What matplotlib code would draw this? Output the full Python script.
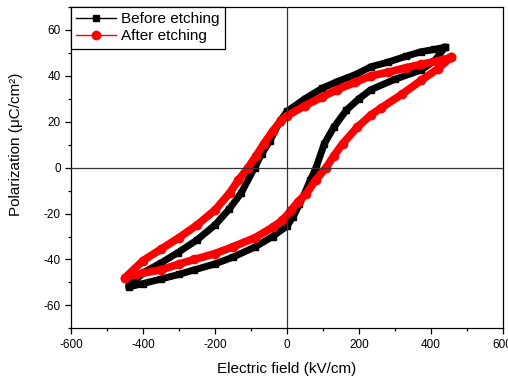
import matplotlib
matplotlib.use('Agg')
import matplotlib.pyplot as plt
from matplotlib.lines import Line2D
from matplotlib.ticker import MultipleLocator

plt.rcParams['font.family'] = ['Liberation Sans', 'DejaVu Sans']
plt.rcParams['axes.unicode_minus'] = False

# Before etching: upper branch (E going down), then lower branch (E going up)
before_up_E = [440, 410, 373, 330, 282, 234, 190, 140, 97, 50, 0, -20, -48, -70, -90,
               -127, -160, -200, -250, -303, -350, -396, -440]
before_up_P = [52.5, 51.5, 50.5, 48.5, 46, 44, 40.5, 37.5, 34.5, 30, 24.5, 20, 11.5, 6, 0,
               -11, -18, -25, -31.5, -37, -41.5, -45.5, -51.5]
before_lo_E = [-440, -400, -349, -300, -257, -201, -150, -88, -40, 0, 17, 35, 49, 65, 81,
               104, 130, 165, 200, 234, 300, 373, 410, 440]
before_lo_P = [-52, -50.5, -48.5, -46.5, -44.5, -42, -39, -34.5, -30, -25.5, -21.5, -16, -11.3, -5.5, 0,
               10.4, 17.5, 25, 30, 34, 38.5, 42.5, 46.5, 52.5]

# After etching
after_up_E = [456, 420, 373, 330, 282, 234, 190, 140, 97, 50, 0, -16, -40, -64, -86, -108,
              -135, -159, -200, -250, -300, -350, -400, -450]
after_up_P = [48, 46.5, 45, 43.5, 41.6, 40, 37.2, 34, 30.7, 27, 22.5, 20.6, 15.8, 10.4, 5, 0,
              -5.5, -11, -18.5, -25, -30.5, -35.5, -40.5, -48]
after_lo_E = [-450, -420, -349, -300, -257, -201, -150, -88, -40, -13, 12, 30, 54, 80, 109,
              130, 155, 195, 234, 262, 320, 373, 419, 456]
after_lo_P = [-48, -46.5, -44.5, -42, -40, -37.5, -34.5, -30.5, -26, -23, -18.6, -15, -11.3, -5.5, 0,
              5, 10.4, 17.5, 23, 26, 32, 38, 43, 48]

fig = plt.figure(figsize=(5.08, 3.83), dpi=100)
ax = fig.add_axes([0.140, 0.1428, 0.8495, 0.8389])

ax.plot(before_up_E + before_lo_E, before_up_P + before_lo_P, color='black',
        lw=5, marker='s', ms=5, solid_joinstyle='round', solid_capstyle='round')
ax.plot(after_up_E + after_lo_E, after_up_P + after_lo_P, color='red',
        lw=5.6, marker='o', ms=6, solid_joinstyle='round', solid_capstyle='round')

ax.axhline(0, color='#333333', lw=0.9, zorder=5)
ax.axvline(0, color='#333333', lw=0.9, zorder=5)

ax.set_xlim(-600, 600)
ax.set_ylim(-70, 70)
ax.xaxis.set_major_locator(MultipleLocator(200))
ax.xaxis.set_minor_locator(MultipleLocator(100))
ax.yaxis.set_major_locator(MultipleLocator(20))
ax.yaxis.set_minor_locator(MultipleLocator(10))
ax.tick_params(which='both', direction='out', top=False, right=False, labelsize=8.5)
ax.tick_params(which='major', length=4, width=0.9)
ax.tick_params(which='minor', length=2.5, width=0.9)
for s in ax.spines.values():
    s.set_linewidth(0.9)

ax.set_xlabel('Electric field (kV/cm)', fontsize=11, labelpad=8)
ax.set_ylabel('Polarization (μC/cm²)', fontsize=11)
ax.yaxis.set_label_coords(-0.112, 0.574)

handles = [
    Line2D([], [], color='black', lw=1, marker='s', ms=5),
    Line2D([], [], color='red', lw=1, marker='o', ms=6),
]
leg = ax.legend(handles, ['Before etching', 'After etching'], loc='upper left',
                bbox_to_anchor=(0, 1), borderaxespad=0, fontsize=11, fancybox=False,
                framealpha=1, edgecolor='black', handlelength=2.6, handletextpad=0.3,
                labelspacing=0.2, borderpad=0.35)
leg.get_frame().set_linewidth(0.9)

fig.savefig('out.png', dpi=100)
